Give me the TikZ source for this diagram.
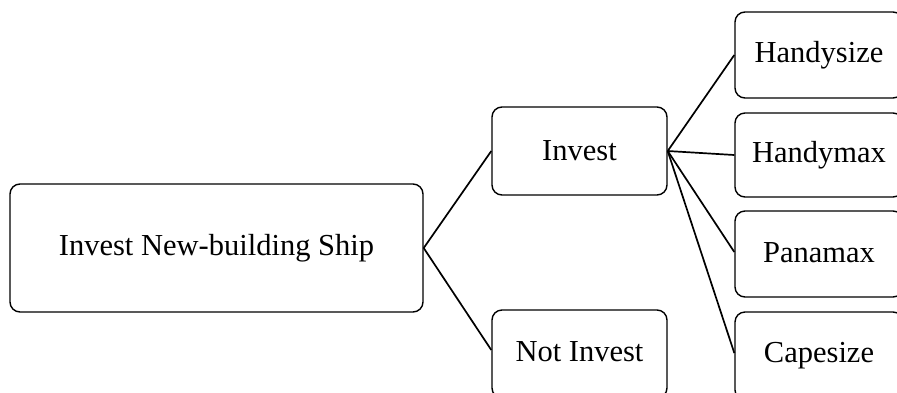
\documentclass[tikz,border=0pt]{standalone}
\usepackage{fontspec}
\setmainfont{Liberation Serif}
\begin{document}
\begin{tikzpicture}[x=1pt,y=-1pt,
  box/.style={draw=black, line width=1.4pt, rounded corners=10pt, inner sep=0pt,
    font=\fontsize{30.5}{34}\selectfont, align=center},
  link/.style={draw=black, line width=1.7pt}]
\useasboundingbox (0,0) rectangle (897,392);
\clip (0,0) rectangle (897,392);
\node[box, minimum width=413pt, minimum height=128pt] (main) at (216.5,248) {\raisebox{6pt}{Invest New-building Ship}};
\node[box, minimum width=175pt, minimum height=88pt] (inv) at (579.5,151) {Invest};
\node[box, minimum width=175pt, minimum height=88pt] (ni) at (579.5,354) {\raisebox{5pt}{Not Invest}};
\node[box, minimum width=168pt, minimum height=86pt] (hs) at (819,55) {\raisebox{2pt}{Handysize}};
\node[box, minimum width=168pt, minimum height=84pt] (hm) at (819,155) {\raisebox{2pt}{Handymax}};
\node[box, minimum width=168pt, minimum height=86pt] (pm) at (819,254) {\raisebox{2pt}{Panamax}};
\node[box, minimum width=168pt, minimum height=88pt] (cs) at (819,356) {\raisebox{5pt}{Capesize}};
\draw[link] (main.east) -- (inv.west);
\draw[link] (main.east) -- ([yshift=4pt]ni.west);
\draw[link] (inv.east) -- (hs.west);
\draw[link] (inv.east) -- (hm.west);
\draw[link] (inv.east) -- ([yshift=2pt]pm.west);
\draw[link] (inv.east) -- ([yshift=3pt]cs.west);
\end{tikzpicture}
\end{document}
